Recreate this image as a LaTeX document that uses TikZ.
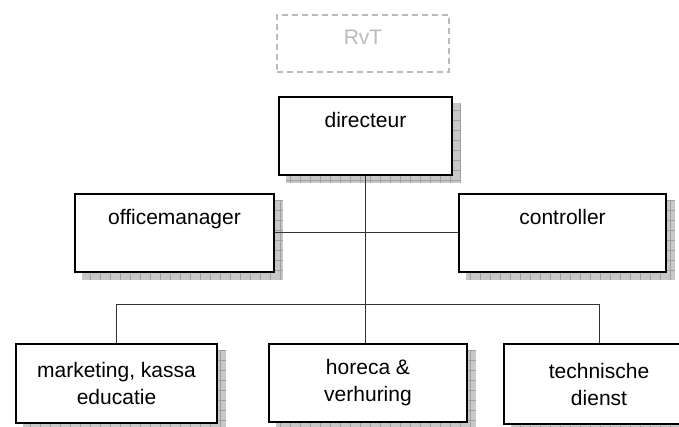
\documentclass[tikz,border=0pt]{standalone}
\usepackage{fontspec}
\setmainfont{Liberation Sans}
\usetikzlibrary{backgrounds}
\definecolor{shfill}{HTML}{C8C8C8}
\definecolor{shgrid}{HTML}{A0A0A0}
\definecolor{rvtgray}{HTML}{BBBBBB}
\begin{document}
\begin{tikzpicture}[x=1pt,y=-1pt,
  box/.style={draw=black,line width=2pt,fill=white,inner sep=0pt,align=center,
    font=\fontsize{21}{27}\selectfont},
  oneline/.style={text depth=32pt},
  conn/.style={line width=1pt,draw=black!80},
  shadowbox/.style={fill=shfill,path picture={\draw[shgrid,line width=0.5pt,step=10pt]
    (path picture bounding box.south west) grid (path picture bounding box.north east);}}
]
\useasboundingbox (0,0) rectangle (679,427);

\node[draw=rvtgray,dash pattern=on 6pt off 4pt,line width=1.5pt,minimum width=172pt,
  minimum height=57pt,text=rvtgray,font=\fontsize{21}{27}\selectfont,text depth=13pt,
  inner sep=0pt] (rvt) at (363,43.5) {RvT};

\node[box,oneline,minimum width=173pt,minimum height=78pt] (dir) at (365.5,136) {directeur};
\node[box,oneline,minimum width=199pt,minimum height=78pt] (off) at (174.5,233) {officemanager};
\node[box,oneline,minimum width=207pt,minimum height=78pt] (con) at (562.5,233) {controller};
\node[box,minimum width=201pt,minimum height=79pt] (mk) at (116.5,383.5) {marketing, kassa\\educatie};
\node[box,minimum width=198pt,minimum height=78pt] (hor) at (368,383) {horeca \&\\verhuring};
\node[box,minimum width=190pt,minimum height=80pt] (td) at (599,384) {technische\\dienst};

\begin{scope}[on background layer]
  \foreach \n in {dir,off,con,mk,hor,td}
    \path[shadowbox] ([shift={(8,7)}]\n.north west) rectangle ([shift={(8,7)}]\n.south east);
\end{scope}

\coordinate (bus) at (0,304);
\draw[conn] (dir.south) -- (dir.south |- hor.north);
\draw[conn] (off.east) -- (con.west);
\draw[conn] (mk.north) -- (mk.north |- bus) -- (td.north |- bus) -- (td.north);
\end{tikzpicture}
\end{document}
